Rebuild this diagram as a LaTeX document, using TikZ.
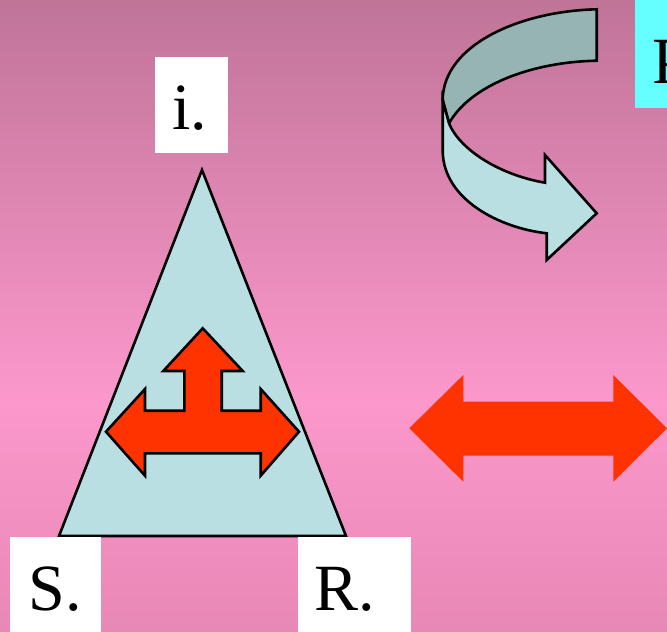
\documentclass[tikz,border=0pt]{standalone}
\usepackage{fontspec}
\setmainfont{Liberation Serif}
\definecolor{bgtop}{RGB}{192,116,152}
\definecolor{bgmid}{RGB}{252,152,204}
\definecolor{bgbot}{RGB}{232,136,182}
\definecolor{lblue}{RGB}{186,223,227}
\definecolor{dblue}{RGB}{150,180,180}
\definecolor{redarr}{RGB}{255,51,0}
\definecolor{cyanbox}{RGB}{102,255,255}
\tikzset{
  lbox/.style={fill=white, inner sep=0pt, minimum width=#1},
  big/.style={font=\fontsize{66}{70}\selectfont, inner sep=0pt, text=black},
  outl/.style={draw=black, line width=2.6pt, line join=miter},
}
\begin{document}
\begin{tikzpicture}[x=1pt,y=-1pt]
\useasboundingbox (0,0) rectangle (667,632);
\shade[top color=bgtop, bottom color=bgmid] (0,0) rectangle (667,401);
\shade[top color=bgmid, bottom color=bgbot] (0,400) rectangle (667,632);

% triangle
\draw[outl, fill=lblue] (202,170) -- (346,536) -- (59,536) -- cycle;

% triple arrow
\draw[outl, fill=redarr] (202.7,328.3) -- (242.7,371) -- (221.7,371) -- (221.7,410.7)
  -- (260.7,410.7) -- (260.7,389) -- (299,431.7) -- (260.7,475.7) -- (260.7,453.3)
  -- (145,453.3) -- (145,475.7) -- (106,431.7) -- (145,389) -- (145,410.7)
  -- (184.3,410.7) -- (184.3,371) -- (163.3,371) -- cycle;

% double arrow
\fill[redarr] (409.3,428.3) -- (463.3,375) -- (463.3,401.7) -- (613.3,401.7) -- (613.3,375)
  -- (667,428.3) -- (613.3,481.7) -- (613.3,455.7) -- (463.3,455.7) -- (463.3,481.7) -- cycle;

% curved arrow: back band
\draw[outl, fill=dblue] (596.7,9.3) .. controls (520,11) and (443,45) .. (442.7,100)
  -- (449,123.3) .. controls (470,86) and (530,62) .. (596.7,60.7) -- cycle;
% front band
\draw[outl, fill=lblue] (442.7,100) -- (442.7,152) .. controls (444,200) and (500,228) .. (546.7,233.3)
  -- (546.7,260) -- (596.7,213.3) -- (545,155) -- (545,182.7)
  .. controls (500,175) and (460,150) .. (449,123.3) -- cycle;

% cyan box, cut off at the right
\node[fill=cyanbox, inner sep=0pt, minimum width=40, minimum height=108, anchor=north west] (cbox) at (635,0) {};
\node[big, anchor=base west] (p) at (652,83) {P.};

% label boxes
\node[lbox=73, minimum height=96] (ibox) at (191.5,105) {};
\node[big, anchor=base] (i) at (189.5,129) {i.};
\node[lbox=91, minimum height=105] (sbox) at (55.5,589) {};
\node[big, anchor=base] (s) at (55,610) {S.};
\node[lbox=113, minimum height=105] (rbox) at (354.5,589) {};
\node[big, anchor=base] (r) at (345,610) {R.};
\end{tikzpicture}
\end{document}
